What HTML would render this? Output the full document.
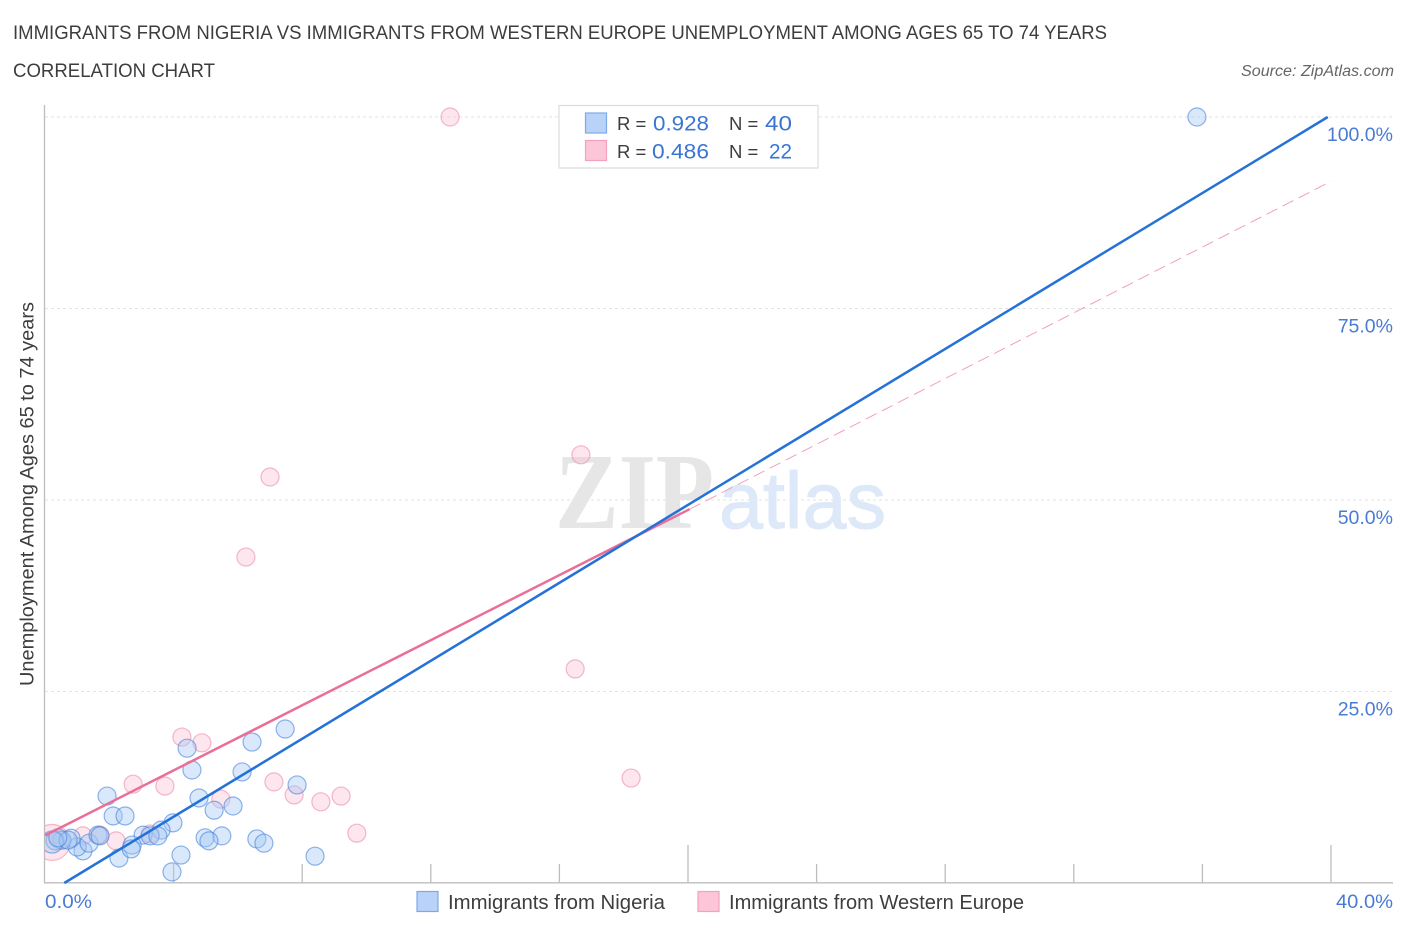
<!DOCTYPE html>
<html lang="en">
<head>
<meta charset="utf-8">
<title>Immigrants from Nigeria vs Immigrants from Western Europe Unemployment Correlation Chart</title>
<style>
html,body{margin:0;padding:0;background:#fff;}
svg{display:block;font-family:"Liberation Sans",sans-serif;}
</style>
</head>
<body>
<svg id="chart" xmlns="http://www.w3.org/2000/svg" width="1406" height="930" viewBox="0 0 1406 930">
  <defs>
    <clipPath id="plot-clip"><rect x="45" y="100" width="1350" height="783"/></clipPath>
  </defs>
  <rect x="0" y="0" width="1406" height="930" fill="#ffffff"/>
  <text x="13" y="39" font-size="19" fill="#3d3d3d" textLength="1094" lengthAdjust="spacingAndGlyphs">IMMIGRANTS FROM NIGERIA VS IMMIGRANTS FROM WESTERN EUROPE UNEMPLOYMENT AMONG AGES 65 TO 74 YEARS</text>
  <text x="13" y="77" font-size="19" fill="#3d3d3d" textLength="202" lengthAdjust="spacingAndGlyphs">CORRELATION CHART</text>
  <text x="1241" y="76" font-size="15.5" font-style="italic" fill="#666" textLength="153" lengthAdjust="spacingAndGlyphs">Source: ZipAtlas.com</text>

  <g id="grid"></g>

  <text x="555" y="528" font-family="'Liberation Serif',serif" font-size="108" font-weight="bold" fill="#e6e6e6" textLength="159" lengthAdjust="spacingAndGlyphs">ZIP</text>
  <text x="719" y="528" font-size="80" fill="#dde8f8" stroke="#dde8f8" stroke-width="1" textLength="167" lengthAdjust="spacingAndGlyphs">atlas</text>

  <g id="axes"></g>
  <g id="pink-points" clip-path="url(#plot-clip)"></g>
  <g id="blue-points" clip-path="url(#plot-clip)"></g>
  <g id="trendlines"></g>
  <g id="y-labels"></g>

  <text transform="translate(33.5,686) rotate(-90)" font-size="19" fill="#3d3d3d" textLength="384" lengthAdjust="spacingAndGlyphs">Unemployment Among Ages 65 to 74 years</text>

  <g>
    <rect x="559" y="105.5" width="259" height="62.5" fill="#fff" stroke="#dcdcdc" stroke-width="1.2"/>
    <rect x="585.5" y="113" width="21" height="20" fill="#b9d3f8" stroke="#7fa9e6" stroke-width="1.2"/>
    <rect x="585.5" y="140.5" width="21" height="20" fill="#fcc6d8" stroke="#f2a2bc" stroke-width="1.2"/>
    <text x="617" y="130" font-size="18.5" fill="#3d3d3d">R =</text>
    <text x="653" y="130.5" font-size="21" fill="#3a75d2" textLength="56" lengthAdjust="spacingAndGlyphs">0.928</text>
    <text x="729" y="130" font-size="18.5" fill="#3d3d3d">N =</text>
    <text x="765" y="130.5" font-size="21" fill="#3a75d2" textLength="27" lengthAdjust="spacingAndGlyphs">40</text>
    <text x="617" y="158" font-size="18.5" fill="#3d3d3d">R =</text>
    <text x="652" y="158.5" font-size="21" fill="#3a75d2" textLength="57" lengthAdjust="spacingAndGlyphs">0.486</text>
    <text x="729" y="158" font-size="18.5" fill="#3d3d3d">N =</text>
    <text x="769" y="158.5" font-size="21" fill="#3a75d2" textLength="23" lengthAdjust="spacingAndGlyphs">22</text>
  </g>

  <text x="45" y="908" font-size="19" fill="#4a7bd4" textLength="47" lengthAdjust="spacingAndGlyphs">0.0%</text>
  <text x="1336" y="908" font-size="19" fill="#4a7bd4" textLength="57" lengthAdjust="spacingAndGlyphs">40.0%</text>

  <g>
    <rect x="417" y="891.5" width="21" height="20" fill="#b9d3f8" stroke="#7fa9e6" stroke-width="1.2"/>
    <text x="448" y="909" font-size="20" fill="#3d3d3d" textLength="217" lengthAdjust="spacingAndGlyphs">Immigrants from Nigeria</text>
    <rect x="698" y="891.5" width="21" height="20" fill="#fcc6d8" stroke="#f2a2bc" stroke-width="1.2"/>
    <text x="729" y="909" font-size="20" fill="#3d3d3d" textLength="295" lengthAdjust="spacingAndGlyphs">Immigrants from Western Europe</text>
  </g>
</svg>
<script>
// Chart data (percent values)
const yTicks = [25, 50, 75, 100];
const yTickLabels = ["25.0%", "50.0%", "75.0%", "100.0%"];
const xTicks = [0, 4, 8, 12, 16, 20, 24, 28, 32, 36, 40];
const xMajorTicks = [20, 40];

const nigeriaX = [35.83,7.47,6.44,4.42,4.57,6.13,7.84,1.93,4.79,5.85,5.26,2.12,2.49,3.98,3.61,5.5,4.98,5.1,6.59,6.81,3.05,3.27,3.51,4.23,3.95,8.4,2.3,2.71,2.68,1.18,1.0,1.37,0.81,0.53,0.31,0.22,1.65,1.71,0.72,0.4];
const nigeriaY = [100,20.1,18.4,17.6,14.75,14.5,12.8,11.35,11.1,10.05,9.5,8.75,8.75,7.85,6.9,6.15,5.9,5.5,5.75,5.2,6.25,6.15,6.15,3.65,1.45,3.5,3.25,4.95,4.45,4.2,4.7,5.2,5.85,5.6,5.5,5.35,6.25,6.15,5.6,5.9];
const nigeriaWeight = [1,1,1,1,1,1,1,1,1,1,1,1,1,1,1,1,1,1,1,1,1,1,1,1,1,1,1,1,1,1,1,1,1,1,1,1.5,1,1,1,1];

const europeX = [12.6,16.67,7.0,6.25,16.49,18.23,4.26,4.88,2.74,3.73,5.47,7.12,7.75,8.58,9.21,9.7,2.21,3.27,1.71,1.18,0.47,0.22];
const europeY = [100,55.9,53.0,42.55,27.95,13.7,19.05,18.3,12.9,12.65,10.95,13.2,11.5,10.6,11.35,6.5,5.5,6.4,6.25,6.15,5.6,5.3];
const europeWeight = [1,1,1,1,1,1,1,1,1,1,1,1,1,1,1,1,1,1,1,1,1,4];

const nigeriaTrendX = [0.6, 39.9];
const nigeriaTrendY = [0, 100];
const europeTrendX = [0, 20.05];
const europeTrendY = [6.2, 48.8];
const europeExtensionX = [20.05, 40];
const europeExtensionY = [48.8, 91.6];

// Axis functions
function xScale(v){ return 45 + v * 32.15; }
function yScale(v){ return 883 - v * 7.66; }
function rScale(w){ return 9 * Math.sqrt(w); }

const NS = "http://www.w3.org/2000/svg";
function make(tag, attrs, parent){
  const el = document.createElementNS(NS, tag);
  for (const k in attrs) el.setAttribute(k, attrs[k]);
  parent.appendChild(el);
  return el;
}

const gridG = document.getElementById("grid");
yTicks.forEach(function(t){
  const g = make("line", {x1:45, x2:1393, y1:yScale(t), y2:yScale(t), stroke:"#e2e2e2", "stroke-width":1, "stroke-dasharray":"3 3"}, gridG);
  
  
});

const axesG = document.getElementById("axes");
const yAxis = make("line", {x1:44.5, x2:44.5, y1:105, y2:883, stroke:"#bdbdbd", "stroke-width":1.3}, axesG);


const xAxis = make("line", {x1:44, x2:1393, y1:882.8, y2:882.8, stroke:"#bdbdbd", "stroke-width":1.3}, axesG);


xTicks.forEach(function(t){
  if (t === 0) return;
  const top = xMajorTicks.indexOf(t) >= 0 ? 845 : 864;
  const tick = make("line", {x1:xScale(t), x2:xScale(t), y1:top, y2:883, stroke:"#bdbdbd", "stroke-width":1.3}, axesG);
  
  
});

const pinkG = document.getElementById("pink-points");
europeX.forEach(function(v, i){
  const c = make("circle", {cx:xScale(v), cy:yScale(europeY[i]), r:rScale(europeWeight[i]), fill:"rgba(250,190,210,0.38)", stroke:"rgba(238,140,172,0.62)", "stroke-width":1.2}, pinkG);
  
  
});

const blueG = document.getElementById("blue-points");
nigeriaX.forEach(function(v, i){
  const c = make("circle", {cx:xScale(v), cy:yScale(nigeriaY[i]), r:rScale(nigeriaWeight[i]), fill:"rgba(165,200,242,0.42)", stroke:"rgba(70,130,220,0.6)", "stroke-width":1.2}, blueG);
  
  
});

const lineG = document.getElementById("trendlines");
const ext = make("line", {x1:xScale(europeExtensionX[0]), y1:yScale(europeExtensionY[0]), x2:xScale(europeExtensionX[1]), y2:yScale(europeExtensionY[1]), stroke:"#f0a0bc", "stroke-width":1, "stroke-dasharray":"12 6"}, lineG);


const pinkLine = make("line", {x1:xScale(europeTrendX[0]), y1:yScale(europeTrendY[0]), x2:xScale(europeTrendX[1]), y2:yScale(europeTrendY[1]), stroke:"#e96f9a", "stroke-width":2.5}, lineG);


const blueLine = make("line", {x1:xScale(nigeriaTrendX[0]), y1:yScale(nigeriaTrendY[0]), x2:xScale(nigeriaTrendX[1]), y2:yScale(nigeriaTrendY[1]), stroke:"#2472d8", "stroke-width":2.5}, lineG);



const labelG = document.getElementById("y-labels");
yTicks.forEach(function(t, i){
  const lab = make("text", {x:1393, y:yScale(t) + 24, "text-anchor":"end", "font-size":19.5, fill:"#4a7bd4"}, labelG);
  
  
  lab.textContent = yTickLabels[i];
});
</script>
</body>
</html>
